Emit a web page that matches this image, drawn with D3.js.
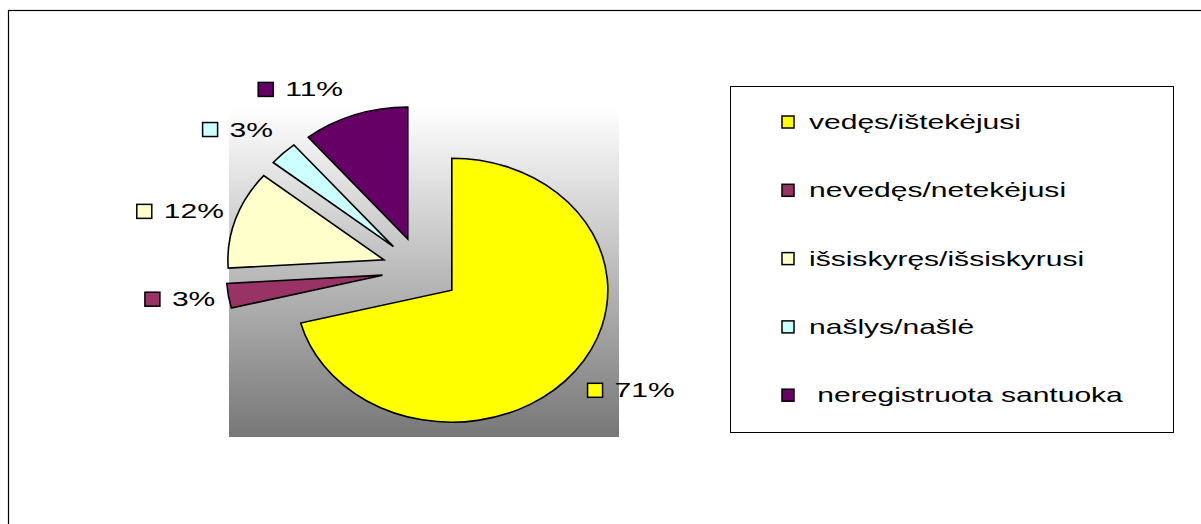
<!DOCTYPE html>
<html>
<head>
<meta charset="utf-8">
<script src="https://cdn.jsdelivr.net/npm/d3@7"></script>
<style>
  body { margin: 0; background: #fff; }
  text { font-family: "Liberation Sans", Arial, sans-serif; fill: #000; white-space: pre; }
</style>
</head>
<body>
<div id="chart"></div>
<script>
const width = 1201;
const height = 524;

// data
const categories = ["vedęs/ištekėjusi", "nevedęs/netekėjusi", "išsiskyręs/išsiskyrusi", "našlys/našlė", " neregistruota santuoka"];
const values = [71, 3, 12, 3, 11];
const colors = ["#ffff00", "#993366", "#ffffcc", "#ccffff", "#660066"];

// layout
const cx = 421, cy = 270;
const rx = 156, ry = 132;
const k = ry / rx;
const explode = 39;
const labelR = 252, labelK = 193 / 252;
// excel moved a few labels off the plain radial spot
const labelDx = [11, 8, -1, -5, -35];
const labelDy = [2, -1, 1, -4, 1];
const sx = 1.43;      // text is drawn wide in the original
const fontSize = 21;

var svg = d3.select("#chart").append("svg")
  .attr("width", width)
  .attr("height", height);

var defs = svg.append("defs");
var grad = defs.append("linearGradient")
  .attr("id", "plotGrad")
  .attr("x1", 0).attr("y1", 0).attr("x2", 0).attr("y2", 1);
grad.append("stop").attr("offset", "0%").attr("stop-color", "#ffffff");
grad.append("stop").attr("offset", "100%").attr("stop-color", "#777777");

// chart border
svg.append("rect")
  .attr("x", 8.5).attr("y", 10.5)
  .attr("width", 1300).attr("height", 700)
  .style("fill", "none").style("stroke", "#000").style("stroke-width", 1.2);

// plot area
svg.append("rect")
  .attr("x", 229).attr("y", 107)
  .attr("width", 390).attr("height", 330)
  .style("fill", "url(#plotGrad)");

var pie = d3.pie().sort(null).value((d) => d);
var arcs = pie(values);

var arc = d3.arc().innerRadius(0).outerRadius(rx);
var offArc = d3.arc().innerRadius(explode).outerRadius(explode);
var labelArc = d3.arc().innerRadius(labelR).outerRadius(labelR);

var pieG = svg.append("g")
  .attr("transform", "translate(" + cx + "," + cy + ") scale(1," + k + ")");

pieG.selectAll("path").data(arcs).enter().append("path")
  .attr("d", arc)
  .attr("transform", (d) => {
    var c = offArc.centroid(d);
    return "translate(" + c[0] + "," + c[1] + ")";
  })
  .attr("vector-effect", "non-scaling-stroke")
  .style("fill", (d, i) => colors[i])
  .style("stroke", "#000")
  .style("stroke-width", 1.6)
  .style("stroke-linejoin", "miter");

// data labels with legend keys
var labels = svg.append("g");
arcs.forEach((d, i) => {
  var c = labelArc.centroid(d);
  var lx = cx + c[0] + labelDx[i];
  var ly = cy + c[1] * labelK + labelDy[i];
  var g = labels.append("g");
  var t = g.append("text")
    .style("font-size", fontSize + "px")
    .text(values[i] + "%");
  var tw = t.node().getComputedTextLength() * sx;
  var blockW = 15 + 12 + tw;
  var x0 = lx - blockW / 2;
  g.append("rect")
    .attr("x", x0).attr("y", ly - 7)
    .attr("width", 15).attr("height", 14)
    .style("fill", colors[i])
    .style("stroke", "#000").style("stroke-width", 1.5);
  t.attr("transform", "translate(" + (x0 + 27) + "," + (ly + 7) + ") scale(" + sx + ",1)");
});

// legend
svg.append("rect")
  .attr("x", 730.5).attr("y", 86.5)
  .attr("width", 443).attr("height", 346)
  .style("fill", "#fff").style("stroke", "#000").style("stroke-width", 1);

var legend = svg.selectAll(".legendItem").data(categories).enter().append("g")
  .attr("class", "legendItem")
  .attr("transform", (d, i) => "translate(782," + (122 + i * 68.3) + ")");

legend.append("rect")
  .attr("x", 0).attr("y", -6)
  .attr("width", 12).attr("height", 12)
  .style("fill", (d, i) => colors[i])
  .style("stroke", "#000").style("stroke-width", 1.5);

legend.append("text")
  .attr("transform", "translate(27,7) scale(" + sx + ",1)")
  .style("font-size", fontSize + "px")
  .text((d) => d);
</script>
</body>
</html>
